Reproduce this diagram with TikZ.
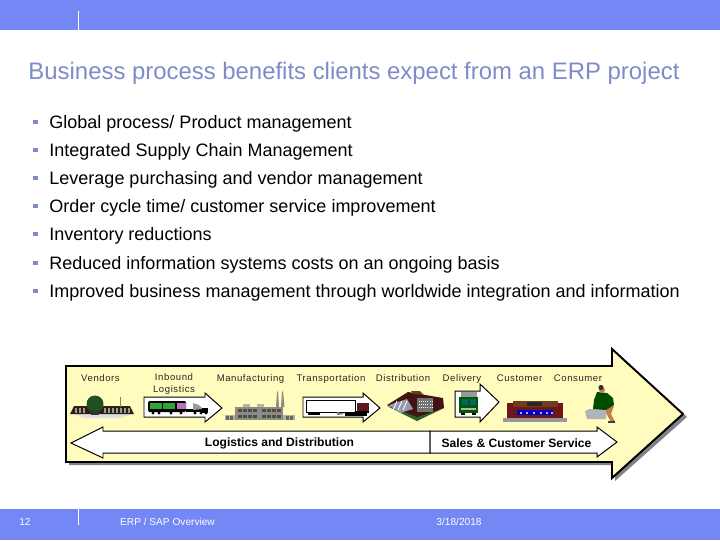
\documentclass[tikz,border=0pt]{standalone}
\usepackage{fontspec}
\setmainfont{Liberation Sans}
\usepackage{tikz}
\definecolor{band}{RGB}{115,135,245}
\definecolor{heading}{RGB}{125,140,200}
\definecolor{arrowfill}{RGB}{255,252,190}
\definecolor{shadowgray}{RGB}{130,130,130}
\definecolor{brick}{RGB}{95,25,30}
\definecolor{leaf}{RGB}{40,100,40}
\definecolor{wall}{RGB}{140,140,128}
\definecolor{roofbrown}{RGB}{110,60,30}
\definecolor{skin}{RGB}{190,130,80}
\tikzset{
	point/.style={anchor=west, text=black, font=\fontsize{12.8}{14}\selectfont},
	bulletbox/.style={fill=heading, minimum size=3.5pt, inner sep=0pt},
	stage/.style={anchor=base, font=\fontsize{6.8}{8.4}\selectfont\addfontfeature{LetterSpace=6}, align=center, text=black!85},
	flow/.style={font=\bfseries\fontsize{8.6}{10}\selectfont},
	footer/.style={font=\fontsize{7.2}{8}\selectfont, text=white},
	smallarrow/.style={draw=black, fill=white, line width=0.7pt},
	bigarrow/.style={draw=black, fill=arrowfill, line width=1.4pt},
}
\begin{document}
\begin{tikzpicture}[x=0.025cm,y=-0.025cm]
	\useasboundingbox (0,0) rectangle (720,540);
	% -------------- bands --------------
	\fill[band] (0,0) rectangle (720,30);
	\fill[band] (0,509) rectangle (720,540);
	\draw[white, line width=0.4pt] (78,11) -- (78,30);
	\draw[white, line width=0.4pt] (78,509) -- (78,525);
	\node[footer] (page) at (25,522) {12};
	\node[footer] (name) at (167.5,522) {ERP / SAP Overview};
	\node[footer] (date) at (459,522) {3/18/2018};
	% -------------- title and points --------------
	\node[anchor=west, text=heading, font=\fontsize{17}{20}\selectfont] (title) at (23.5,73) {Business process benefits clients expect from an ERP project};
	\foreach \y/\txt [count=\i] in {122/{Global process/ Product management},
		150/{Integrated Supply Chain Management},
		178/{Leverage purchasing and vendor management},
		206/{Order cycle time/ customer service improvement},
		234/{Inventory reductions},
		263/{Reduced information systems costs on an ongoing basis},
		291/{Improved business management through worldwide integration and information}} {
		\node[bulletbox] (b\i) at (35.5,\y) {};
		\node[point] (p\i) at (44.5,\y+2) {\txt};
	}
	% -------------- big arrow --------------
	\fill[shadowgray] (69,369) -- (615,369) -- (615,352) -- (687,417) -- (615,481) -- (615,465) -- (69,465) -- cycle;
	\draw[bigarrow] (66,366) -- (612,366) -- (612,349) -- (683,414) -- (612,478) -- (612,462) -- (66,462) -- cycle;
	% -------------- flow arrows --------------
	\draw[smallarrow] (430,431) -- (103,431) -- (103,427) -- (71,443) -- (103,458) -- (103,453) -- (430,453) -- cycle;
	\draw[smallarrow] (430,431) -- (597,431) -- (597,427) -- (617,442) -- (597,457) -- (597,453) -- (430,453) -- cycle;
	\node[flow] (logistics) at (279.5,443.5) {Logistics and Distribution};
	\node[flow] (sales) at (516.5,443.5) {Sales \& Customer Service};
	% -------------- stage arrows --------------
	\draw[smallarrow] (144,397) -- (205,397) -- (205,393) -- (222,408) -- (205,422) -- (205,417) -- (144,417) -- cycle;
	\draw[smallarrow] (303,397) -- (363,397) -- (363,393) -- (380,408) -- (363,422) -- (363,417) -- (303,417) -- cycle;
	\draw[smallarrow] (455,391) -- (480,391) -- (480,384) -- (499,402) -- (480,422) -- (480,417) -- (455,417) -- cycle;
	\node[stage] (vendors) at (100.5,381) {Vendors};
	\node[stage] (inbound) at (174,392) {Inbound\\Logistics};
	\node[stage] (manufacturing) at (250.5,381) {Manufacturing};
	\node[stage] (transportation) at (331,381) {Transportation};
	\node[stage] (distribution) at (403,381) {Distribution};
	\node[stage] (delivery) at (462,381) {Delivery};
	\node[stage] (customer) at (519.5,381) {Customer};
	\node[stage] (consumer) at (578,381) {Consumer};
	% -------------- vendors building --------------
	\fill[black!12] (72,414) -- (133,414) -- (120,418) -- (85,418) -- cycle;
	\fill[black!75!brown] (70,414) -- (74,406) -- (130,406) -- (134,414) -- cycle;
	\foreach \x in {75,79,83,104,108,112,116,120,124,128} {
		\fill[black!40] (\x,408) rectangle (\x+1.5,413);
	}
	\fill[leaf!80!black] (95,404) circle (8.5);
	\fill[black!80] (91,411) rectangle (99,415);
	\draw[black!50, line width=0.3pt] (120,397) -- (120,407);
	% -------------- tanker --------------
	\fill[black,rounded corners=1pt] (148,401) rectangle (186,412);
	\fill[green!55!black!80] (150,403) rectangle (162,409);
	\fill[green!55!black!80] (163,403) rectangle (175,409);
	\fill[violet!55] (177,403) rectangle (186,409);
	\fill[black] (186,409) rectangle (208,412);
	\fill[black!40] (193,403) -- (199,405) -- (203,409) -- (193,410) -- cycle;
	\fill[black] (202,408) rectangle (208,413);
	\foreach \x in {153,159,171,181,195,201,206} {
		\fill[black] (\x,413) circle (1.6);
	}
	% -------------- factory --------------
	\fill[wall] (277,392) -- (278,391) -- (279,407) -- (276,407) -- cycle;
	\fill[wall] (282,392) -- (283,391) -- (284.5,407) -- (281,407) -- cycle;
	\fill[black!30] (243,404) rectangle (250,407);
	\fill[black!30] (257,404) rectangle (264,407);
	\fill[wall!70] (225,415) rectangle (295,420);
	\fill[wall] (235,407) rectangle (283,420);
	\foreach \x in {238,243,248,253,262,267,272,277} {
		\fill[black!70] (\x,409) rectangle (\x+3.5,412);
		\fill[black!70] (\x,415) rectangle (\x+3.5,418);
	}
	\foreach \x in {226,230,286,290} {
		\fill[black!60] (\x,416) rectangle (\x+2.5,419.5);
	}
	\fill[black!45] (257,413) rectangle (261,420);
	% -------------- trailer truck --------------
	\draw[fill=white, draw=black, line width=0.5pt] (306,400) rectangle (355,412);
	\fill[brick] (357,403) rectangle (369,411);
	\fill[black] (355,411) rectangle (369,413);
	\fill[black] (308,413) rectangle (320,415);
	\fill[black!50] (337,412) -- (345,414) -- (337,415) -- cycle;
	\fill[black] (345,412) rectangle (367,416);
	% -------------- distribution centre --------------
	\fill[leaf] (387,406) -- (417,421) -- (444,408) -- (417,414) -- cycle;
	\fill[brick!70!black] (387,405) -- (408,392) -- (443,398) -- (444,408) -- (417,417) -- cycle;
	\fill[black!50!brown] (411,391) -- (420,391) -- (424,395) -- (413,394) -- cycle;
	\fill[blue!20!black!40] (389,405) -- (407,399) -- (413,409) -- (400,413) -- cycle;
	\foreach \x in {393,398,403} {
		\draw[white, line width=0.6pt] (\x,410) -- (\x+4,401);
	}
	\fill[black!55] (417,398) rectangle (433,412);
	\foreach \y in {401,404,407} {
		\draw[white, densely dotted, line width=0.5pt] (419,\y) -- (432,\y);
	}
	% -------------- delivery van --------------
	\fill[black!40] (461,392) rectangle (477,398);
	\fill[green!35!black] (459,397) rectangle (478,413);
	\fill[black!20!teal] (462,399) rectangle (468,405);
	\fill[black!20!teal] (470,399) rectangle (476,405);
	\fill[black!30] (461,408) rectangle (476,410);
	\fill[black] (461,413) rectangle (465,415);
	\fill[black] (472,413) rectangle (476,415);
	% -------------- customer shop --------------
	\fill[black!40] (503,418) rectangle (567,422);
	\fill[brick!90!red] (507,403) rectangle (563,418);
	\fill[roofbrown] (513,401) rectangle (558,407);
	\fill[black!85] (527,402) rectangle (542,406);
	\fill[blue!80!black] (517,410) rectangle (553,415);
	\foreach \x in {520,526,533,540,546,551} {
		\fill[white!70!blue] (\x,411.5) rectangle (\x+1.5,413.5);
	}
	% -------------- consumer --------------
	\fill[blue!10!black!30] (585,411) -- (589,409) -- (606,409) -- (606,419) -- (587,419) -- cycle;
	\fill[skin] (606,404) -- (614,406) -- (611,414) -- (615,422) -- (611,422) -- (606,413) -- cycle;
	\fill[green!30!black] (597,392) -- (607,393) -- (613,398) -- (614,405) -- (606,410) -- (593,409) -- (594,400) -- cycle;
	\fill[skin] (602,390) circle (3);
	\fill[black!80] (601,387.5) circle (2.6);
	\fill[black!75] (608,421) rectangle (615,423);
\end{tikzpicture}
\end{document}
